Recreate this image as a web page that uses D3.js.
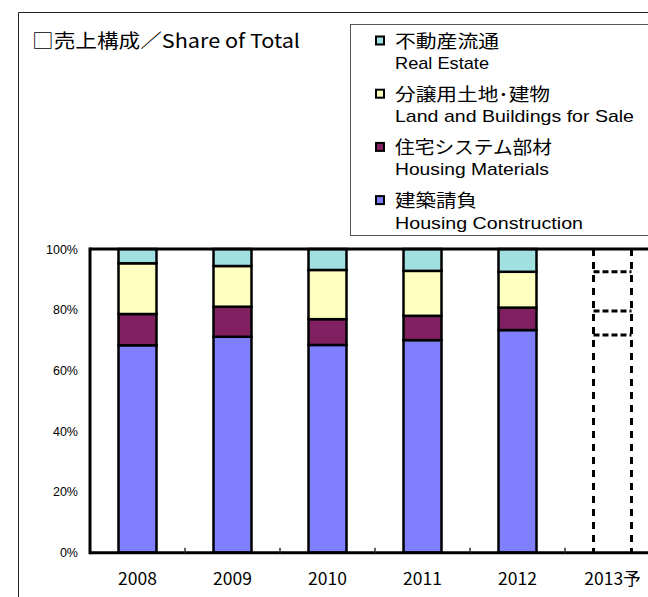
<!DOCTYPE html>
<html>
<head>
<meta charset="utf-8">
<script src="https://cdn.jsdelivr.net/npm/d3@7"></script>
<style>
  html, body { margin: 0; padding: 0; background: #fff; }
  svg { display: block; }
</style>
</head>
<body>
<div id="chart"></div>
<script>
// ---------- data ----------
const categories   = ["2008", "2009", "2010", "2011", "2012", "2013予"];
const forecast     = [false, false, false, false, false, true];
const construction = [68.3, 71.1, 68.4, 70.0, 73.3, 71.7];   // 建築請負
const materials    = [10.3, 9.9, 8.5, 8.0, 7.4, 7.9];        // 住宅システム部材
const landSale     = [16.7, 13.4, 16.2, 14.8, 11.8, 12.9];   // 分譲用土地・建物
const realEstate   = [4.7, 5.6, 6.9, 7.2, 7.5, 7.5];         // 不動産流通
const yTicks       = [0, 20, 40, 60, 80, 100];
const seriesKeys   = ["construction", "materials", "landSale", "realEstate"];
const seriesJa     = ["建築請負", "住宅システム部材", "分譲用土地･建物", "不動産流通"];
const seriesEn     = ["Housing Construction", "Housing Materials", "Land and Buildings for Sale", "Real Estate"];
const seriesColors = ["#8080FF", "#802060", "#FFFFC0", "#A0E0E0"];
const titleText    = "□売上構成／Share of Total";

// ---------- setup ----------
const W = 648, H = 597;
const svg = d3.select("#chart").append("svg").attr("width", W).attr("height", H);
svg.append("rect").attr("width", W).attr("height", H).attr("fill", "#fff");

const JP = "'Noto Sans CJK JP', 'Noto Sans', sans-serif";
const EN = "'Liberation Sans', Arial, sans-serif";

// outer chart border (only left/top are inside the frame)
svg.append("path").attr("d", `M18.5,${H + 5}V12.5H${W + 5}`)
  .attr("fill", "none").attr("stroke", "#222").attr("stroke-width", 1);

// title
svg.append("text").attr("x", 32).attr("y", 48)
  .attr("font-family", JP).attr("font-size", 19).attr("fill", "#000")
  .attr("textLength", 268).attr("lengthAdjust", "spacingAndGlyphs")
  .text(titleText);

// ---------- scales ----------
const x = d3.scaleBand().domain(categories).range([90, 660]).paddingInner(0.6).paddingOuter(0.3);
const y = d3.scaleLinear().domain([0, 100]).range([552.7, 249]);

const rows = categories.map((c, i) => ({
  cat: c, forecast: forecast[i],
  construction: construction[i], materials: materials[i],
  landSale: landSale[i], realEstate: realEstate[i]
}));
const stacked = d3.stack().keys(seriesKeys)(rows);

// ---------- bars ----------
const actualLayers = svg.append("g");
stacked.forEach((layer, si) => {
  actualLayers.append("g").selectAll("rect")
    .data(layer.filter(d => !d.data.forecast))
    .join("rect")
    .attr("x", d => x(d.data.cat))
    .attr("width", x.bandwidth())
    .attr("y", d => y(d[1]))
    .attr("height", d => y(d[0]) - y(d[1]))
    .attr("fill", seriesColors[si])
    .attr("stroke", "#000")
    .attr("stroke-width", 2.5);
});

// forecast bar: dashed outline and dashed segment boundaries
const fg = svg.append("g");
rows.filter(r => r.forecast).forEach(r => {
  const x0 = x(r.cat), x1 = x0 + x.bandwidth();
  fg.append("line").attr("x1", x0).attr("x2", x0).attr("y1", y(100)).attr("y2", y(0))
    .attr("stroke", "#000").attr("stroke-width", 3).attr("stroke-dasharray", "7,6");
  fg.append("line").attr("x1", x1).attr("x2", x1).attr("y1", y(100)).attr("y2", y(0))
    .attr("stroke", "#000").attr("stroke-width", 3).attr("stroke-dasharray", "7,6");
  stacked.slice(0, -1).forEach(layer => {
    const d = layer.find(p => p.data.cat === r.cat);
    fg.append("line").attr("x1", x0).attr("x2", x1).attr("y1", y(d[1])).attr("y2", y(d[1]))
      .attr("stroke", "#000").attr("stroke-width", 3).attr("stroke-dasharray", "6,3");
  });
});

// ---------- axes ----------
// plot frame: left, top, bottom
svg.append("line").attr("x1", 90).attr("x2", W + 5).attr("y1", y(100)).attr("y2", y(100))
  .attr("stroke", "#000").attr("stroke-width", 3);
svg.append("line").attr("x1", 90).attr("x2", W + 5).attr("y1", y(0)).attr("y2", y(0))
  .attr("stroke", "#000").attr("stroke-width", 3);
svg.append("line").attr("x1", 90).attr("x2", 90).attr("y1", y(100) - 1.5).attr("y2", y(0) + 1.5)
  .attr("stroke", "#000").attr("stroke-width", 3);

// x tick marks at category boundaries (pointing inward)
const boundaries = categories.slice(1).map(c => x(c) - x.step() * x.paddingInner() / 2);
svg.append("g").selectAll("line").data(boundaries).join("line")
  .attr("x1", d => d).attr("x2", d => d)
  .attr("y1", y(0)).attr("y2", y(0) - 5)
  .attr("stroke", "#333").attr("stroke-width", 1.5);

// y labels
svg.append("g").selectAll("text").data(yTicks).join("text")
  .attr("x", 78).attr("y", d => y(d) + 4.5)
  .attr("text-anchor", "end")
  .attr("font-family", EN).attr("font-size", 12.5).attr("fill", "#000")
  .text(d => d + "%");

// x labels
svg.append("g").selectAll("text").data(categories).join("text")
  .attr("x", d => x(d) + x.bandwidth() / 2).attr("y", 584.5)
  .attr("text-anchor", "middle")
  .attr("font-family", JP).attr("font-size", 17.5).attr("fill", "#000")
  .text(d => d);

// ---------- legend ----------
svg.append("rect").attr("x", 350.5).attr("y", 24.5).attr("width", W).attr("height", 211)
  .attr("fill", "#fff").attr("stroke", "#555").attr("stroke-width", 1);

const legendOrder = [3, 2, 1, 0];
const jaWidths = {0: 82, 1: 157, 2: 155, 3: 104};
const enWidths = {0: 188, 1: 154, 2: 239, 3: 94};
const lg = svg.append("g");
legendOrder.forEach((si, k) => {
  const cy = 41 + k * 53.2;
  lg.append("rect").attr("x", 376).attr("y", cy - 4.5).attr("width", 8).attr("height", 8)
    .attr("fill", seriesColors[si]).attr("stroke", "#000").attr("stroke-width", 2);
  lg.append("text").attr("x", 395).attr("y", cy + 6.5)
    .attr("font-family", JP).attr("font-size", 18).attr("fill", "#000")
    .attr("textLength", jaWidths[si]).attr("lengthAdjust", "spacingAndGlyphs")
    .text(seriesJa[si]);
  lg.append("text").attr("x", 395).attr("y", cy + 22 + 6)
    .attr("font-family", EN).attr("font-size", 17).attr("fill", "#000")
    .attr("textLength", enWidths[si]).attr("lengthAdjust", "spacingAndGlyphs")
    .text(seriesEn[si]);
});
</script>
</body>
</html>
